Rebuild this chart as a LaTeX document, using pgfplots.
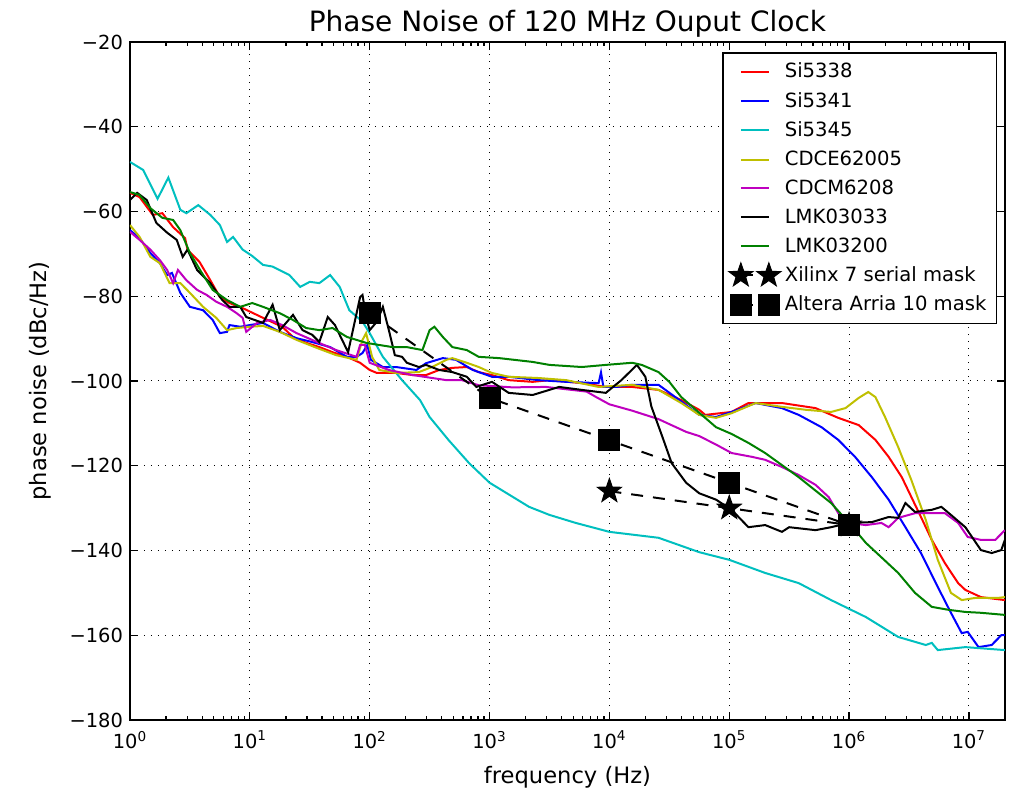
\documentclass[border=0pt]{standalone}
\usepackage{fontspec}
\setmainfont{DejaVu Sans}
\usepackage{pgfplots}
\usepackage{pgfplotstable}
\pgfplotsset{compat=1.18}
\definecolor{mplg}{rgb}{0,0.5,0}
\definecolor{mplc}{rgb}{0,0.75,0.75}
\definecolor{mplm}{rgb}{0.75,0,0.75}
\definecolor{mply}{rgb}{0.75,0.75,0}

\pgfdeclareplotmark{fstar}{%
  \pgfpathmoveto{\pgfqpointpolar{90}{\pgfplotmarksize}}%
  \pgfpathlineto{\pgfqpointpolar{126}{0.40\pgfplotmarksize}}%
  \pgfpathlineto{\pgfqpointpolar{162}{\pgfplotmarksize}}%
  \pgfpathlineto{\pgfqpointpolar{198}{0.40\pgfplotmarksize}}%
  \pgfpathlineto{\pgfqpointpolar{234}{\pgfplotmarksize}}%
  \pgfpathlineto{\pgfqpointpolar{270}{0.40\pgfplotmarksize}}%
  \pgfpathlineto{\pgfqpointpolar{306}{\pgfplotmarksize}}%
  \pgfpathlineto{\pgfqpointpolar{342}{0.40\pgfplotmarksize}}%
  \pgfpathlineto{\pgfqpointpolar{18}{\pgfplotmarksize}}%
  \pgfpathlineto{\pgfqpointpolar{54}{0.40\pgfplotmarksize}}%
  \pgfpathclose
  \pgfusepathqfillstroke}

\pgfplotstableread{
L dB
0 -55.6
0.08 -56.6
0.19 -60.8
0.27 -60.4
0.36 -63.7
0.46 -66.3
0.48 -69
0.58 -71.9
0.67 -76.2
0.75 -80.2
0.83 -81.6
0.94 -82.8
1.11 -85.1
1.27 -87.2
1.36 -89.6
1.47 -91
1.58 -92
1.69 -93.2
1.81 -94.3
1.92 -95.7
2.0 -97.4
2.06 -98.1
2.22 -98.1
2.36 -98.6
2.47 -98.6
2.58 -97.4
2.69 -96.9
2.81 -96.7
2.91 -97.9
3.02 -98.6
3.16 -99.8
3.36 -100.2
3.50 -99.8
3.77 -100.5
3.97 -101.4
4.19 -101.4
4.41 -102.1
4.60 -104.5
4.75 -106.8
4.80 -108.0
5.02 -107.3
5.16 -105.2
5.44 -105.2
5.72 -106.4
5.91 -108.7
6.08 -110.4
6.22 -113.9
6.33 -117.9
6.44 -122.7
6.52 -127.4
6.60 -132.1
6.69 -137.5
6.80 -143
6.91 -147.7
6.97 -149.3
7.10 -151
7.30 -151.7
}\tabA

\pgfplotstableread{
L dB
0 -64.4
0.08 -66.3
0.17 -69.8
0.25 -72.2
0.31 -75
0.35 -74.5
0.42 -79.2
0.50 -82.5
0.61 -83.3
0.69 -85.6
0.75 -88.7
0.81 -88.4
0.83 -86.8
0.92 -87.2
1.0 -86.8
1.11 -86.3
1.25 -88.4
1.39 -89.9
1.52 -90.8
1.67 -92
1.81 -94.3
1.89 -94.3
1.94 -93.4
1.98 -91.5
2.01 -95
2.11 -96.7
2.22 -96.7
2.39 -97.4
2.47 -95.8
2.61 -94.6
2.72 -95
2.86 -97.4
3.02 -99
3.16 -99
3.41 -99.8
3.64 -100.2
3.91 -100.5
3.93 -98
3.95 -101.4
4.06 -101.4
4.19 -100.9
4.41 -100.9
4.55 -103.8
4.75 -108
4.89 -108.5
5.02 -107.3
5.22 -105.2
5.44 -106.4
5.58 -108
5.77 -110.9
5.91 -113.9
6.05 -117.9
6.19 -122.7
6.33 -128
6.47 -134.5
6.60 -140.6
6.74 -148.6
6.85 -154.7
6.94 -159.5
6.99 -159.2
7.08 -162.8
7.19 -162.3
7.27 -160
7.30 -160
}\tabB

\pgfplotstableread{
L dB
0 -48.3
0.11 -50.2
0.23 -57
0.32 -52
0.42 -59.6
0.47 -60.4
0.57 -58.5
0.67 -60.8
0.75 -63.2
0.81 -67.2
0.86 -66
0.94 -69
1.02 -70.5
1.11 -72.6
1.19 -73
1.33 -75
1.42 -77.8
1.50 -76.6
1.58 -76.9
1.67 -75
1.75 -77.8
1.83 -83.3
1.94 -86
2.0 -88.7
2.11 -94.3
2.27 -99.8
2.42 -104.5
2.50 -108.5
2.66 -114
2.83 -119.4
3.0 -124
3.33 -129.7
3.50 -131.6
3.72 -133.5
4.0 -135.6
4.41 -137
4.75 -140.4
5.0 -142.2
5.30 -145.3
5.58 -147.7
5.85 -151.7
6.14 -155.7
6.41 -160.4
6.64 -162.3
6.69 -161.8
6.74 -163.5
6.97 -162.8
7.30 -163.5
}\tabC

\pgfplotstableread{
L dB
0 -63.2
0.08 -66
0.17 -70.7
0.25 -72.2
0.33 -76.9
0.42 -76.9
0.50 -79.2
0.61 -82.5
0.72 -85.1
0.81 -88
0.89 -87.5
1.0 -87.2
1.11 -87
1.25 -88.4
1.39 -90.3
1.56 -92.2
1.72 -93.9
1.89 -95
1.94 -90.3
1.97 -88.7
2.02 -94.3
2.08 -97.4
2.22 -98.1
2.41 -97.9
2.52 -96.7
2.64 -95
2.69 -94.6
2.81 -95.7
2.91 -96.7
3.02 -98.1
3.16 -99
3.41 -99.3
3.64 -99.8
3.91 -101.4
4.19 -100.9
4.41 -102.1
4.60 -105.2
4.75 -108
4.89 -108.7
5.02 -107.6
5.22 -105.2
5.44 -106.1
5.64 -106.8
5.85 -107.3
5.97 -106.4
6.08 -104
6.16 -102.6
6.22 -103.8
6.30 -108.5
6.41 -115.6
6.52 -123.4
6.64 -132.8
6.74 -142.2
6.85 -150
6.94 -151.7
7.05 -151.2
7.24 -151.2
7.30 -151
}\tabD

\pgfplotstableread{
L dB
0 -64.8
0.08 -66.7
0.17 -69
0.25 -71.5
0.31 -73.8
0.36 -76.9
0.40 -73.8
0.47 -76.2
0.56 -78.5
0.64 -79.7
0.72 -81.3
0.81 -82.5
0.89 -84
0.94 -85.1
0.97 -88.4
1.06 -86.3
1.17 -85.6
1.27 -86.8
1.39 -88.7
1.56 -90.8
1.72 -92.7
1.89 -94.3
1.92 -91.5
1.96 -91.5
2.0 -95.7
2.16 -97.4
2.36 -98.6
2.64 -99.8
2.77 -99.8
2.91 -101
3.19 -101.5
3.47 -101.4
3.81 -102.5
3.89 -103.8
4.0 -105.5
4.19 -107
4.41 -109
4.64 -112
4.75 -113
4.89 -115
5.02 -117
5.19 -117.9
5.30 -118.6
5.44 -120.3
5.58 -122.2
5.72 -124.5
5.83 -127.4
5.91 -131.2
6.0 -133.5
6.14 -134
6.27 -133.5
6.33 -134.5
6.41 -132.3
6.55 -131.2
6.80 -131.2
6.91 -133.5
6.99 -136.8
7.10 -137.5
7.22 -137.5
7.30 -135.2
}\tabE

\pgfplotstableread{
L dB
0 -57.3
0.06 -55.6
0.14 -57.3
0.22 -62.7
0.31 -65
0.39 -66.7
0.44 -70.7
0.48 -69
0.56 -73.8
0.67 -76.9
0.77 -80.9
0.83 -82.5
0.92 -82.5
0.97 -84.9
1.11 -86.3
1.19 -82
1.25 -88
1.36 -84.4
1.44 -88
1.52 -89.1
1.58 -90.8
1.65 -84.9
1.71 -86.8
1.77 -90.3
1.82 -93.2
1.86 -88
1.92 -80.2
1.94 -79.7
1.97 -84.9
2.0 -88
2.06 -86
2.11 -82.5
2.16 -88
2.21 -93.9
2.27 -94.3
2.31 -95.7
2.41 -96.7
2.47 -96.2
2.58 -97.4
2.69 -97.9
2.81 -99
2.89 -101.4
3.02 -100.2
3.16 -102.8
3.36 -103.3
3.58 -101.4
3.77 -102.1
3.97 -102.8
4.10 -99.8
4.23 -96.2
4.30 -99
4.35 -106
4.44 -113
4.52 -119.4
4.64 -124
4.75 -126.5
4.89 -128
5.02 -130.4
5.16 -134.5
5.30 -134
5.44 -135.6
5.50 -134.5
5.72 -135.2
5.85 -134.5
6.0 -133.5
6.19 -133.3
6.33 -132.1
6.41 -132.3
6.47 -128.8
6.55 -130.9
6.69 -130.4
6.77 -129.7
6.85 -131.6
6.97 -134.5
7.10 -139.9
7.19 -140.6
7.27 -139.9
7.30 -137.5
}\tabF

\pgfplotstableread{
L dB
0 -55.4
0.08 -56.1
0.17 -59.2
0.27 -61.5
0.36 -62
0.42 -64.4
0.50 -69.8
0.60 -74.5
0.69 -78.5
0.81 -80.9
0.92 -82.5
1.02 -81.6
1.11 -82.5
1.25 -84
1.36 -85.6
1.47 -87.5
1.58 -88
1.69 -87.5
1.81 -89.6
1.97 -91
2.08 -91.5
2.19 -92
2.31 -92
2.44 -92.7
2.50 -88
2.54 -87.2
2.61 -89.6
2.69 -92
2.81 -92.7
2.91 -94.3
3.08 -94.6
3.36 -95.5
3.50 -96.2
3.77 -96.7
3.97 -96.2
4.19 -95.7
4.27 -96.2
4.41 -97.9
4.50 -100.2
4.60 -103.8
4.75 -107.5
4.89 -110.9
5.02 -112.5
5.16 -114.6
5.30 -117
5.58 -122.7
5.85 -128.8
6.0 -133.5
6.14 -138.2
6.41 -145.3
6.55 -150
6.69 -153.3
6.83 -154
6.97 -154.5
7.10 -154.7
7.30 -155.2
}\tabG

\begin{document}
\begin{tikzpicture}
\begin{axis}[
  name=ax,
  scale only axis, width=437.5pt, height=339pt,
  xmode=log, xmin=1, xmax=2e7, ymin=-180, ymax=-20,
  xtick={1,10,100,1000,10000,100000,1000000,10000000},
  xticklabels={10\textsuperscript{0},10\textsuperscript{1},10\textsuperscript{2},10\textsuperscript{3},10\textsuperscript{4},10\textsuperscript{5},10\textsuperscript{6},10\textsuperscript{7}},
  minor xtick={2,3,4,5,6,7,8,9,20,30,40,50,60,70,80,90,200,300,400,500,600,700,800,900,2000,3000,4000,5000,6000,7000,8000,9000,20000,30000,40000,50000,60000,70000,80000,90000,200000,300000,400000,500000,600000,700000,800000,900000,2000000,3000000,4000000,5000000,6000000,7000000,8000000,9000000},
  ytick={-180,-160,-140,-120,-100,-80,-60,-40,-20},
  yticklabels={−180,−160,−140,−120,−100,−80,−60,−40,−20},
  xtick pos=both, ytick pos=both, tick align=inside,
  major tick length=4pt, minor tick length=2pt,
  tick style={black, line width=0.6pt},
  axis line style={line width=0.8pt},
  xmajorgrids, ymajorgrids,
  major grid style={black, line width=0.5pt, dash pattern=on 0.6pt off 2.9pt},
  ticklabel style={font=\fontsize{9.7}{11}\selectfont},
  xticklabel style={yshift=-2pt},
  xlabel={frequency (Hz)}, ylabel={phase noise (dBc/Hz)},
  label style={font=\fontsize{11.3}{13}\selectfont, inner sep=0pt},
  xlabel style={at={(axis description cs:0.5,-0.084)}, anchor=center},
  ylabel style={at={(axis description cs:-0.103,0.5)}, anchor=center},
  title={Phase Noise of 120 MHz Ouput Clock},
  title style={font=\fontsize{14}{16}\selectfont, inner sep=0pt, yshift=-7pt, at={(axis description cs:0.5,1.0295)}, anchor=center},
  every axis plot/.append style={line width=1pt},
  legend cell align=left,
  legend style={at={(0.991,0.985)}, anchor=north east, draw=black, line width=0.7pt,
    font=\fontsize{9.8}{11}\selectfont, row sep=1.7pt, inner xsep=3pt, inner ysep=3pt},
  legend image code/.code={\draw[#1] plot coordinates {(0pt,0pt) (14pt,0pt)};},
]
\addplot[red] table[x expr=10^\thisrow{L}, y=dB] {\tabA};
\addlegendentry{Si5338}
\addplot[blue] table[x expr=10^\thisrow{L}, y=dB] {\tabB};
\addlegendentry{Si5341}
\addplot[mplc] table[x expr=10^\thisrow{L}, y=dB] {\tabC};
\addlegendentry{Si5345}
\addplot[mply] table[x expr=10^\thisrow{L}, y=dB] {\tabD};
\addlegendentry{CDCE62005}
\addplot[mplm] table[x expr=10^\thisrow{L}, y=dB] {\tabE};
\addlegendentry{CDCM6208}
\addplot[black] table[x expr=10^\thisrow{L}, y=dB] {\tabF};
\addlegendentry{LMK03033}
\addplot[mplg] table[x expr=10^\thisrow{L}, y=dB] {\tabG};
\addlegendentry{LMK03200}
\addplot[black, dash pattern=on 6pt off 5pt, mark=fstar, mark size=6.3pt, mark options={solid, fill=black, line width=0.5pt}]
  coordinates {(1e4,-126) (1e5,-130) (1e6,-134)};
\addlegendentry{Xilinx 7 serial mask}
\addplot[black, dash pattern=on 6pt off 5pt, mark=square*, mark size=5pt, mark options={solid, fill=black}]
  coordinates {(1e2,-84) (1e3,-104) (1e4,-114) (1e5,-124) (1e6,-134)};
\addlegendentry{Altera Arria 10 mask}
\end{axis}
\path[use as bounding box] ([shift={(-65pt,-37pt)}]ax.south west) rectangle ([shift={(4.5pt,21pt)}]ax.north east);
\end{tikzpicture}
\end{document}
